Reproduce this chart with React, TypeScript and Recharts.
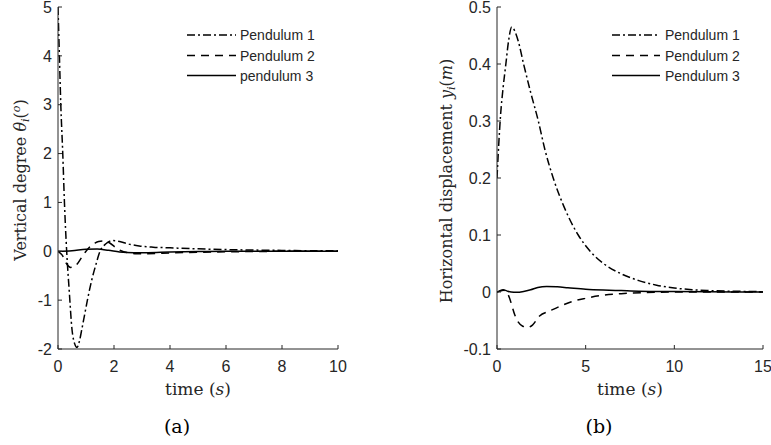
import React from 'react';
import { LineChart, Line, XAxis, YAxis } from 'recharts';

// ---------- (a) Vertical degree, time 0..10 s ----------
const aP1Time = [0, 0.05, 0.1, 0.17, 0.23, 0.31, 0.4, 0.5, 0.6, 0.68, 0.76, 0.85, 0.95, 1.05, 1.2, 1.35, 1.5, 1.7, 1.95, 2.2, 2.5, 2.9, 3.4, 4, 5, 6, 7, 8, 9, 10];
const aP1Value = [5, 4, 3, 2, 1, 0, -0.8, -1.6, -1.9, -1.97, -1.85, -1.6, -1.3, -1.0, -0.6, -0.28, 0, 0.15, 0.22, 0.2, 0.15, 0.11, 0.085, 0.07, 0.05, 0.035, 0.025, 0.018, 0.012, 0.01];

const aP2Time = [0, 0.15, 0.3, 0.45, 0.55, 0.7, 0.85, 1.0, 1.15, 1.3, 1.45, 1.65, 1.85, 2.05, 2.25, 2.5, 2.8, 3.2, 4, 5, 6, 7, 8, 10];
const aP2Value = [0, -0.08, -0.25, -0.33, -0.32, -0.25, -0.12, 0, 0.1, 0.16, 0.2, 0.21, 0.17, 0.08, 0.01, -0.03, -0.05, -0.05, -0.035, -0.02, -0.01, -0.005, 0, 0];

const aP3Time = [0, 0.5, 1.0, 1.4, 1.8, 2.2, 2.7, 3.2, 4, 5, 6, 8, 10];
const aP3Value = [0, 0.01, 0.04, 0.045, 0.02, -0.015, -0.03, -0.028, -0.015, -0.005, 0, 0, 0];

// ---------- (b) Horizontal displacement, time 0..15 s ----------
const bP1Time = [0, 0.1, 0.2, 0.35, 0.5, 0.65, 0.83, 1.0, 1.2, 1.5, 1.9, 2.33, 2.7, 3.17, 3.8, 4.58, 5.3, 6.0, 7.0, 8.0, 9.0, 10, 11, 12, 13, 14, 15];
const bP1Value = [0.2, 0.26, 0.31, 0.36, 0.4, 0.44, 0.465, 0.458, 0.44, 0.4, 0.35, 0.3, 0.25, 0.2, 0.148, 0.1, 0.07, 0.05, 0.032, 0.02, 0.012, 0.007, 0.004, 0.0025, 0.0015, 0.001, 0.0005];

const bP2Time = [0, 0.2, 0.35, 0.5, 0.7, 0.85, 1.0, 1.2, 1.45, 1.75, 2.0, 2.4, 3.0, 3.55, 4.2, 5.0, 5.8, 7, 8.4, 10, 12, 15];
const bP2Value = [0, 0.002, 0.003, 0.001, -0.01, -0.025, -0.04, -0.053, -0.06, -0.062, -0.058, -0.042, -0.033, -0.025, -0.017, -0.011, -0.0065, -0.003, -0.001, 0, 0, 0];

const bP3Time = [0, 0.15, 0.35, 0.55, 0.8, 1.1, 1.5, 1.9, 2.3, 2.8, 3.4, 4, 5, 6, 7, 8, 10, 12, 15];
const bP3Value = [0, 0.002, 0.004, 0.002, 0, -0.0005, 0.001, 0.004, 0.008, 0.0098, 0.009, 0.0075, 0.005, 0.0035, 0.0025, 0.0015, 0.0008, 0.0003, 0];

// ---------- ticks & labels ----------
const aXTicks = [0, 2, 4, 6, 8, 10];
const aYTicks = [-2, -1, 0, 1, 2, 3, 4, 5];
const bXTicks = [0, 5, 10, 15];
const bYTicks = [-0.1, 0, 0.1, 0.2, 0.3, 0.4, 0.5];
const aLegend = ['Pendulum 1', 'Pendulum 2', 'pendulum 3'];
const bLegend = ['Pendulum 1', 'Pendulum 2', 'Pendulum 3'];

const zip = (t: number[], v: number[]) => t.map((x, i) => ({ t: x, v: v[i] }));

const AX = '#262626';
const SANS = '"Liberation Sans", Arial, Helvetica, sans-serif';
const SERIF = '"DejaVu Serif", serif';
const DASHES = ['8 3 2 3', '8 6', undefined];

const fmt = (v: number) => String(Math.round(v * 100) / 100);

function Panel(props: {
  left: number; width: number; yAxisWidth: number; marginLeft: number; marginRight: number;
  xDomain: [number, number]; yDomain: [number, number]; xTicks: number[]; yTicks: number[];
  series: { t: number; v: number }[][];
}) {
  const tickStyle = { fill: AX, fontSize: 16, fontFamily: SANS };
  return (
    <div style={{ position: 'absolute', left: props.left, top: 0 }}>
      <LineChart width={props.width} height={445}
        margin={{ top: 7, right: props.marginRight, bottom: 66, left: props.marginLeft }}>
        <XAxis dataKey="t" type="number" domain={props.xDomain} ticks={props.xTicks} interval={0}
          allowDataOverflow tickSize={-4} tickMargin={16} height={30}
          axisLine={{ stroke: AX }} tickLine={{ stroke: AX }} tick={tickStyle} tickFormatter={fmt} />
        <YAxis type="number" domain={props.yDomain} ticks={props.yTicks} interval={0}
          allowDataOverflow tickSize={-4} tickMargin={10} width={props.yAxisWidth}
          axisLine={{ stroke: AX }} tickLine={{ stroke: AX }} tick={tickStyle} tickFormatter={fmt} />
        {props.series.map((d, i) => (
          <Line key={i} data={d} dataKey="v" type="monotone" stroke="#000" strokeWidth={1.5}
            strokeDasharray={DASHES[i]} dot={false} activeDot={false} isAnimationActive={false} />
        ))}
      </LineChart>
    </div>
  );
}

function Legend(props: { x1: number; x2: number; tx: number; labels: string[] }) {
  const rows = [35, 55.5, 75.5];
  return (
    <g>
      {props.labels.map((l, i) => (
        <g key={i}>
          <line x1={props.x1} x2={props.x2} y1={rows[i]} y2={rows[i]} stroke="#000" strokeWidth={1.5}
            strokeDasharray={DASHES[i]} />
          <text x={props.tx} y={rows[i]} dy="0.36em" fontSize={14} fontFamily={SANS} fill={AX}>{l}</text>
        </g>
      ))}
    </g>
  );
}

export default function App() {
  return (
    <div style={{ position: 'absolute', left: 0, top: 0, width: 771, height: 445, background: '#fff' }}>
      <Panel left={0} width={360} yAxisWidth={40} marginLeft={18} marginRight={22}
        xDomain={[0, 10]} yDomain={[-2, 5]} xTicks={aXTicks} yTicks={aYTicks}
        series={[zip(aP1Time, aP1Value), zip(aP2Time, aP2Value), zip(aP3Time, aP3Value)]} />
      <Panel left={400} width={371} yAxisWidth={50} marginLeft={47} marginRight={8}
        xDomain={[0, 15]} yDomain={[-0.1, 0.5]} xTicks={bXTicks} yTicks={bYTicks}
        series={[zip(bP1Time, bP1Value), zip(bP2Time, bP2Value), zip(bP3Time, bP3Value)]} />
      <svg width={771} height={445} style={{ position: 'absolute', left: 0, top: 0, pointerEvents: 'none' }}>
        <Legend x1={187} x2={236} tx={240} labels={aLegend} />
        <Legend x1={612} x2={660} tx={665} labels={bLegend} />
        <text x={198} y={395} textAnchor="middle" fontSize={17} fontFamily={SERIF} fill={AX}>
          time (<tspan fontStyle="italic">s</tspan>)
        </text>
        <text x={630} y={395} textAnchor="middle" fontSize={17} fontFamily={SERIF} fill={AX}>
          time (<tspan fontStyle="italic">s</tspan>)
        </text>
        <text x={26} y={180} transform="rotate(-90 26 180)" textAnchor="middle" fontSize={16} fontFamily={SERIF} fill={AX}>
          Vertical degree <tspan fontStyle="italic">θ</tspan><tspan fontStyle="italic" fontSize={11} dy={3}>i</tspan><tspan dy={-3}>(</tspan><tspan fontStyle="italic" fontSize={11} dy={-6}>o</tspan><tspan dy={6}>)</tspan>
        </text>
        <text x={452} y={181} transform="rotate(-90 452 181)" textAnchor="middle" fontSize={16} fontFamily={SERIF} fill={AX}>
          Horizontal displacement <tspan fontStyle="italic">y</tspan><tspan fontStyle="italic" fontSize={11} dy={3}>i</tspan><tspan dy={-3}>(</tspan><tspan fontStyle="italic">m</tspan>)
        </text>
        <text x={177} y={433} textAnchor="middle" fontSize={19} fontFamily={SERIF} fill="#000">(a)</text>
        <text x={599} y={433} textAnchor="middle" fontSize={19} fontFamily={SERIF} fill="#000">(b)</text>
      </svg>
    </div>
  );
}
